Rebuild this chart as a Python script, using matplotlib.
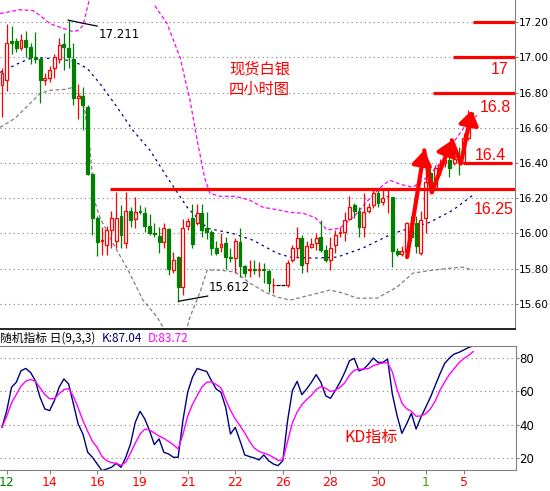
import matplotlib
matplotlib.use('Agg')
import matplotlib.pyplot as plt
from matplotlib.patches import FancyArrowPatch
import numpy as np

W, H = 550, 491
RED = '#ff0000'
GREEN = '#008000'
NAVY = '#000080'
MAGENTA = '#ff00ff'
GRAY = '#808080'
CJK = ['Noto Sans CJK SC', 'DejaVu Sans']

# spot silver, 4h bars
opens = [16.84, 16.87, 17.09, 17.09, 17.055, 17.10, 17.06, 17.00, 16.99, 16.87,
         16.88, 16.94, 16.99, 17.075, 17.055, 16.99, 16.77, 16.78, 16.72, 16.34,
         16.09, 15.955, 15.935, 16.02, 15.96, 16.10, 15.945, 16.13, 16.08, 16.13,
         16.115, 16.04, 16.00, 15.985, 15.95, 16.025, 15.79, 15.865, 15.695, 16.04,
         16.09, 16.06, 16.115, 16.03, 16.01, 15.915, 15.925, 15.945, 15.865, 15.86,
         15.95, 15.815, 15.79, 15.80, 15.79, 15.80, 15.785, 15.705, 15.71, 15.71,
         15.705, 15.85, 15.915, 15.975, 15.83, 15.925, 15.945, 15.98, 15.905, 15.85,
         15.935, 16.00, 16.01, 16.085, 16.16, 16.13, 16.035, 16.13, 16.16, 16.23,
         16.18, 16.21, 16.205, 15.90, 15.885, 15.895, 16.06, 16.06, 15.89, 16.09,
         16.345, 16.26, 16.36, 16.40, 16.415, 16.40, 16.43, 16.405, 16.54, 16.645]
highs = [16.94, 17.19, 17.18, 17.11, 17.13, 17.15, 17.08, 17.145, 17.00, 16.91,
         16.95, 17.02, 17.11, 17.14, 17.211, 17.08, 16.85, 16.83, 16.73, 16.34,
         16.10, 16.035, 16.04, 16.13, 16.235, 16.16, 16.235, 16.15, 16.205, 16.16,
         16.15, 16.11, 16.06, 16.035, 16.06, 16.03, 15.895, 15.87, 16.08, 16.09,
         16.17, 16.17, 16.17, 16.12, 16.02, 15.96, 16.00, 15.98, 15.92, 15.975,
         16.03, 15.82, 15.85, 15.85, 15.84, 15.83, 15.80, 15.745, 15.71, 15.71,
         15.85, 15.935, 16.035, 15.99, 15.96, 15.975, 16.00, 16.075, 15.935, 15.98,
         16.02, 16.035, 16.12, 16.215, 16.175, 16.15, 16.23, 16.175, 16.26, 16.245,
         16.245, 16.245, 16.205, 15.915, 15.93, 16.065, 16.10, 16.10, 16.13, 16.37,
         16.375, 16.39, 16.42, 16.45, 16.51, 16.49, 16.49, 16.57, 16.70, 16.69]
lows = [16.66, 16.81, 17.02, 17.03, 17.04, 17.00, 16.96, 16.97, 16.74, 16.84,
        16.86, 16.88, 16.97, 16.93, 16.94, 16.73, 16.65, 16.585, 16.33, 15.99,
        15.875, 15.88, 15.877, 15.92, 15.92, 15.92, 15.92, 16.035, 16.03, 16.11,
        16.01, 15.99, 15.98, 15.89, 15.92, 15.765, 15.775, 15.612, 15.65, 16.02,
        15.92, 16.05, 15.98, 15.97, 15.88, 15.88, 15.895, 15.80, 15.84, 15.775,
        15.755, 15.755, 15.755, 15.77, 15.755, 15.72, 15.67, 15.665, 15.71, 15.71,
        15.695, 15.84, 15.86, 15.775, 15.78, 15.915, 15.905, 15.895, 15.84, 15.79,
        15.89, 15.98, 15.96, 16.075, 16.09, 15.98, 15.98, 16.115, 16.145, 16.15,
        16.16, 16.115, 15.81, 15.875, 15.87, 15.89, 15.96, 15.89, 15.877, 16.00,
        16.235, 16.255, 16.33, 16.38, 16.32, 16.39, 16.33, 16.40, 16.53, 16.615]
closes = [16.91, 17.08, 17.08, 17.055, 17.10, 17.06, 17.00, 16.99, 16.87, 16.885,
          16.93, 17.00, 17.07, 17.06, 17.00, 16.77, 16.78, 16.73, 16.335, 16.09,
          15.95, 15.965, 16.02, 16.09, 16.09, 15.99, 16.13, 16.075, 16.12, 16.12,
          16.04, 16.00, 15.995, 15.95, 16.03, 15.80, 15.85, 15.695, 16.03, 16.07,
          15.94, 16.115, 16.02, 16.01, 15.92, 15.89, 15.94, 15.865, 15.86, 15.96,
          15.815, 15.775, 15.80, 15.79, 15.80, 15.79, 15.72, 15.71, 15.71, 15.71,
          15.835, 15.915, 15.975, 15.82, 15.93, 15.94, 15.975, 15.905, 15.85, 15.92,
          15.99, 16.01, 16.075, 16.15, 16.13, 16.035, 16.12, 16.15, 16.23, 16.175,
          16.20, 16.215, 15.90, 15.885, 15.90, 16.06, 15.98, 15.93, 16.075, 16.29,
          16.26, 16.37, 16.39, 16.415, 16.37, 16.425, 16.40, 16.54, 16.64, 16.635]

# bollinger bands: (bar index, price)
bb_mid_x = [-0.4, 3.8, 6.5, 10.1, 14.9, 17.9, 20.6, 24.2, 27.5, 31.1, 34.7, 38.9,
            43.1, 48.5, 52.7, 57.8, 60.5, 65.3, 70.4, 75.8, 82.1, 89.9, 94.7, 98.9]
bb_mid = [16.914, 16.97, 16.999, 16.993, 16.98, 16.937, 16.85, 16.716, 16.585, 16.472,
          16.319, 16.149, 16.03, 16.0, 15.962, 15.888, 15.866, 15.86, 15.866, 15.917,
          16.0, 16.064, 16.132, 16.217]
bb_up_x = [-0.4, 3.8, 6.5, 8.0, 10.1, 12.2, 14.9, 16.0, 17.0, 18.1, 18.6, np.nan,
           32.1, 34.7, 37.4, 39.5, 41.0, 42.6, 43.7, 45.8, 49.0, 52.1, 54.8, 58.4,
           60.5, 63.2, 65.8, 68.3, 71.0, 74.2, 77.3, 80.0, 81.5, 83.6, 86.3, 89.3,
           92.6, 94.7, 97.7, 99.8]
bb_up = [17.248, 17.27, 17.265, 17.237, 17.19, 17.17, 17.146, 17.152, 17.18, 17.30,
         17.36, np.nan,
         17.293, 17.19, 16.999, 16.755, 16.529, 16.313, 16.228, 16.211, 16.211, 16.189,
         16.149, 16.132, 16.12, 16.115, 16.09, 16.02, 16.03, 16.104, 16.2, 16.274,
         16.302, 16.28, 16.262, 16.319, 16.415, 16.512, 16.625, 16.67]
bb_low_x = [-0.4, 2.7, 5.9, 8.0, 10.1, 13.2, 14.9, 16.4, 17.4, 18.5, 19.5, 20.6,
            23.3, 26.5, 29.6, 32.6, 34.4, np.nan,
            38.6, 39.5, 41.6, 43.1, 45.8, 49.0, 52.1, 55.3, 57.8, 60.5, 64.7, 68.9,
            71.6, 74.6, 78.8, 83.0, 86.3, 90.5, 94.1, 96.8, 98.9]
bb_low = [16.602, 16.653, 16.738, 16.795, 16.812, 16.818, 16.829, 16.784, 16.699,
          16.472, 16.18, 16.09, 15.945, 15.792, 15.622, 15.526, 15.44, np.nan,
          15.44, 15.526, 15.667, 15.792, 15.792, 15.781, 15.718, 15.667, 15.639,
          15.622, 15.65, 15.679, 15.662, 15.633, 15.633, 15.696, 15.775, 15.792,
          15.803, 15.809, 15.792]

# stochastic (9,3,3)
k_line = [38.4, 48.4, 62.3, 65.3, 72.2, 73.6, 71.2, 66.3, 56.3, 49.4,
          48.4, 54.3, 62.3, 67.3, 64.3, 52.4, 40.4, 34.4, 23.5, 20.5,
          16.5, 12.5, 13.5, 14.5, 16.9, 14.5, 20.5, 28.5, 41.4, 48.0,
          43.4, 36.4, 28.1, 31.5, 23.5, 22.5, 20.5, 20.5, 42.4, 59.3,
          68.2, 73.6, 72.6, 71.8, 66.3, 61.3, 59.3, 50.3, 34.4, 38.4,
          30.4, 21.9, 20.9, 20.1, 18.9, 21.9, 18.5, 16.5, 15.5, 18.5,
          42.4, 60.3, 65.9, 57.9, 61.3, 65.3, 69.9, 65.3, 57.3, 55.7,
          60.3, 65.3, 71.2, 78.2, 79.6, 72.2, 73.2, 76.2, 79.8, 77.2,
          77.2, 79.2, 58.3, 45.4, 34.8, 40.4, 46.8, 37.4, 44.4, 50.3,
          56.3, 63.3, 70.3, 76.6, 79.8, 82.2, 83.2, 84.6, 86.1, 87.04]
d_line = [38.4, 45.0, 53.0, 58.0, 63.0, 66.0, 67.0, 66.0, 62.0, 58.0,
          55.5, 55.5, 58.5, 61.0, 61.5, 57.0, 50.0, 42.4, 36.0, 30.0,
          26.4, 21.0, 18.5, 17.3, 16.9, 15.7, 17.5, 23.0, 29.0, 34.4,
          37.3, 36.8, 35.0, 33.2, 31.8, 30.0, 28.0, 25.5, 34.0, 45.0,
          52.0, 57.3, 62.5, 65.3, 65.6, 64.0, 62.0, 55.0, 48.5, 43.5,
          39.4, 35.0, 30.0, 26.0, 24.0, 23.0, 22.0, 20.5, 18.6, 18.9,
          30.0, 41.0, 47.5, 52.0, 55.0, 57.5, 61.0, 62.7, 61.8, 59.8,
          60.5, 62.3, 65.0, 69.5, 72.5, 73.2, 73.2, 73.5, 75.2, 76.2,
          76.8, 77.2, 71.5, 61.0, 53.0, 49.5, 48.0, 45.0, 45.2, 46.5,
          49.4, 54.0, 60.5, 65.5, 70.0, 73.5, 77.0, 79.5, 81.3, 83.72]

date_pos = [1, 10, 20, 29, 39, 49, 59, 69, 79, 89, 97]
date_labels = ['12', '14', '16', '19', '21', '22', '26', '28', '30', '1', '5']
date_colors = [GREEN, RED, RED, RED, RED, RED, RED, RED, RED, '#4a9a00', RED]

price_ticks = [15.6, 15.8, 16.0, 16.2, 16.4, 16.6, 16.8, 17.0, 17.2]
kd_ticks = [20, 40, 60, 80]

# hand drawn support / target levels
levels = [16.25, 16.4, 16.8, 17.0, 17.2]
level_from = [22.6, 96.8, 90.5, 94.7, 98.9]
level_to = [108.5, 107.1, 108.5, 108.5, 108.5]

# zigzag arrow path (bar index, price)
path_x = [85.1, 88.7, 90.3, 94.5, 96.4, 98.7]
path_p = [15.866, 16.472, 16.234, 16.529, 16.398, 16.699]

hi_idx, hi_val = 14, 17.211
lo_idx, lo_val = 37, 15.612

X0, PXB = -0.42, 4.76  # bar index at left edge, pixels per bar


def fpx(x, y):
    return x / W, 1 - y / H


plt.rcParams['font.family'] = 'DejaVu Sans'
fig = plt.figure(figsize=(W / 100, H / 100), dpi=100)
ax = fig.add_axes([0, 1 - 329 / H, 515 / W, 329 / H])
kd = fig.add_axes([0, 1 - 470 / H, 516 / W, 124 / H])

# --- price panel ---
o, h, l, c = map(np.array, (opens, highs, lows, closes))
x = np.arange(len(o))
up, dn, fl = c > o, c < o, c == o
ax.vlines(x[up], l[up], h[up], color=RED, lw=0.9, zorder=3)
ax.vlines(x[dn], l[dn], h[dn], color=GREEN, lw=0.9, zorder=3)
ax.bar(x[up], (c - o)[up], bottom=o[up], width=0.6, facecolor='white',
       edgecolor=RED, lw=0.9, zorder=4)
ax.bar(x[dn], (c - o)[dn], bottom=o[dn], width=0.6, color=GREEN,
       edgecolor=GREEN, lw=0.9, zorder=4)
ax.hlines(o[fl], x[fl] - 0.45, x[fl] + 0.45, color='black', lw=0.9, zorder=4)

ax.plot(bb_mid_x, bb_mid, color=NAVY, lw=0.9, ls=(0, (2, 3)), zorder=2)
ax.plot(bb_up_x, bb_up, color=MAGENTA, lw=0.9, ls=(0, (3, 2)), zorder=2)
ax.plot(bb_low_x, bb_low, color=GRAY, lw=0.9, ls=(0, (3, 2)), zorder=2)

for lv, a, b in zip(levels, level_from, level_to):
    ax.plot([a, b], [lv, lv], color=RED, lw=2.3, zorder=5, solid_capstyle='butt')

ax.text(103.2, 16.138, '16.25', color=RED, fontsize=11.5, family='Liberation Sans',
        ha='center', va='center', zorder=6)
ax.text(102.7, 16.444, '16.4', color=RED, fontsize=11.5, family='Liberation Sans',
        ha='center', va='center', zorder=6)
ax.text(103.6, 16.716, '16.8', color=RED, fontsize=11.5, family='Liberation Sans',
        ha='center', va='center', zorder=6)
ax.text(104.6, 16.932, '17', color=RED, fontsize=11.5, family='Liberation Sans',
        ha='center', va='center', zorder=6)

# red zigzag arrows
for j in range(len(path_x) - 1):
    p0 = (path_x[j], path_p[j])
    p1 = (path_x[j + 1], path_p[j + 1])
    if j % 2 == 0:
        ax.add_patch(FancyArrowPatch(p0, p1, arrowstyle='-|>,head_length=0.65,head_width=0.45',
                                     mutation_scale=13, lw=3, color=RED,
                                     shrinkA=0, shrinkB=0, zorder=7))
    else:
        ax.plot([p0[0], p1[0]], [p0[1], p1[1]], color=RED, lw=3, zorder=7,
                solid_capstyle='round')

# high / low marks
ax.plot([hi_idx - 0.1, 16.8, 20.0], [hi_val, 17.194, 17.177], color='black', lw=0.9, zorder=6)
ax.text(20.3, 17.132, f'{hi_val:.3f}', fontsize=8.5, ha='left', va='center', zorder=6)
ax.plot([lo_idx + 0.2, 43.2], [lo_val + 0.004, 15.645], color='black', lw=0.9, zorder=6)
ax.text(43.4, 15.691, f'{lo_val:.3f}', fontsize=8.5, ha='left', va='center', zorder=6)

ax.set_xlim(X0, X0 + 515 / PXB)
ax.set_ylim(15.458, 17.325)
ax.set_yticks(price_ticks)
ax.set_yticklabels([f'{p:.2f}' for p in price_ticks])
ax.yaxis.tick_right()
ax.tick_params(axis='y', length=2, width=0.8, color=GRAY, pad=0.5, labelsize=7.6)
ax.set_xticks([])
ax.grid(axis='y', color=GRAY, lw=0.8, ls=(0, (1, 3)))
ax.set_axisbelow(True)
for s in ('left', 'top'):
    ax.spines[s].set_visible(False)
ax.spines['right'].set_color(GRAY)
ax.spines['bottom'].set_color('black')
ax.spines['bottom'].set_linewidth(1.2)

fig.text(*fpx(229, 69), '现货白银', color=RED, fontsize=11, family=CJK, va='center')
fig.text(*fpx(229, 89), '四小时图', color=RED, fontsize=11, family=CJK, va='center')

# --- KD panel ---
kd.plot(x, k_line, color=NAVY, lw=1)
kd.plot(x, d_line, color=MAGENTA, lw=1)
kd.set_xlim(X0, X0 + 516 / PXB)
kd.set_ylim(12.9, 87.0)
kd.set_yticks(kd_ticks)
kd.set_yticklabels([str(t) for t in kd_ticks])
kd.yaxis.tick_right()
kd.tick_params(axis='y', length=2, width=0.8, color=GRAY, pad=0.5, labelsize=8.5)
kd.set_xticks(date_pos)
kd.set_xticklabels(date_labels)
kd.tick_params(axis='x', length=3, width=0.8, color=GRAY, pad=1, labelsize=9)
for lab, col in zip(kd.get_xticklabels(), date_colors):
    lab.set_color(col)
kd.grid(axis='y', color=GRAY, lw=0.8, ls=(0, (1, 3)))
kd.set_axisbelow(True)
kd.spines['left'].set_visible(False)
for s in ('top', 'right', 'bottom'):
    kd.spines[s].set_color(GRAY)

fig.text(*fpx(371, 437), 'KD指标', color=RED, fontsize=11.5, family=CJK,
         ha='center', va='center')

fig.text(*fpx(0, 338), '随机指标 日(9,3,3)', color='black', fontsize=8.5, family=CJK, va='center')
fig.text(*fpx(102, 338), f'K:{k_line[-1]:.2f}', color=NAVY, fontsize=8.5, family=CJK, va='center')
fig.text(*fpx(148, 338), f'D:{d_line[-1]:.2f}', color=MAGENTA, fontsize=8.5, family=CJK, va='center')

fig.savefig('out.png', dpi=100)
